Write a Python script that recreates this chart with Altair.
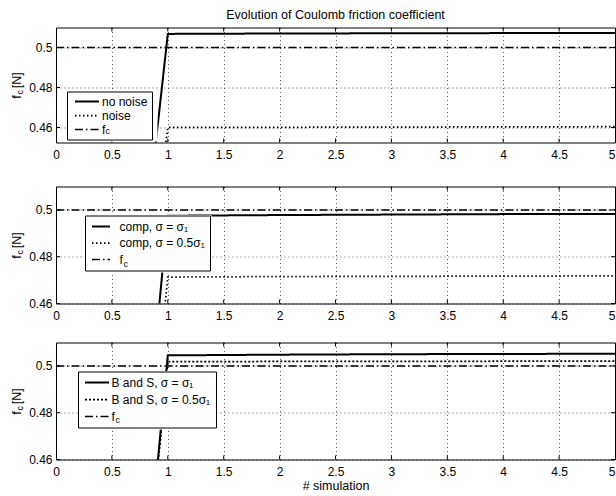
import altair as alt
import pandas as pd

# ---------------- data ----------------
sims = [0, 1, 2, 3, 4, 5]

p1_names = ["no noise", "noise", "f"]
p1_no_noise = [0.0, 0.5068, 0.5070, 0.5071, 0.5072, 0.5072]
p1_noise = [0.0, 0.4600, 0.4601, 0.4602, 0.4603, 0.4604]
p1_fc = [0.5, 0.5, 0.5, 0.5, 0.5, 0.5]

p2_names = ["comp, σ = σ₁", "comp, σ = 0.5σ₁", "f"]
p2_comp1 = [0.0, 0.4975, 0.4978, 0.4980, 0.4982, 0.4983]
p2_comp05 = [0.0, 0.4713, 0.4715, 0.4716, 0.4717, 0.4718]
p2_fc = [0.5, 0.5, 0.5, 0.5, 0.5, 0.5]

p3_names = ["B and S, σ = σ₁", "B and S, σ = 0.5σ₁", "f"]
p3_bs1 = [0.0, 0.5045, 0.5048, 0.5050, 0.5051, 0.5052]
p3_bs05 = [0.0, 0.5018, 0.5019, 0.5019, 0.5020, 0.5020]
p3_fc = [0.5, 0.5, 0.5, 0.5, 0.5, 0.5]

x_ticks = [0, 0.5, 1, 1.5, 2, 2.5, 3, 3.5, 4, 4.5, 5]
y_ticks = [0.46, 0.48, 0.5]

title_text = "Evolution of Coulomb friction coefficient"
x_title = "# simulation"
y_title = "f\u00a0\u00a0[N]"

W = 559
FONT = "Liberation Sans"


def panel(names, series, domain, height, leg, show_xtitle, dashes, title=None):
    rows = []
    for name, vals in zip(names, series):
        for s, v in zip(sims, vals):
            rows.append({"sim": s, "val": v, "series": name})
    df = pd.DataFrame(rows)

    xscale = alt.Scale(domain=[0, 5], nice=False)
    yscale = alt.Scale(domain=domain, nice=False, zero=False)

    xaxis = alt.Axis(values=x_ticks, format="~g", title=x_title if show_xtitle else None,
                     labelAlign={"condition": {"test": "datum.value == 5", "value": "right"}, "value": "center"},
                     titleFontSize=12.5, titleFontWeight="normal", titlePadding=2)
    yaxis = alt.Axis(values=y_ticks, format="~g", title=y_title, titleX=-36, titleY=height / 2,
                     titleAngle=270, titleBaseline="alphabetic", titleAlign="center",
                     titleFontSize=12.5, titleFontWeight="normal")

    half = leg["len"] / 8.0
    lines = alt.Chart(df).mark_line(clip=True, color="black").encode(
        x=alt.X("sim:Q", scale=xscale, axis=xaxis),
        y=alt.Y("val:Q", scale=yscale, axis=yaxis),
        strokeDash=alt.StrokeDash("series:N", scale=alt.Scale(domain=names, range=dashes),
                                  legend=alt.Legend(orient="none", legendX=leg["x"], legendY=leg["y"],
                                                    title=None, strokeColor="black",
                                                    padding=leg["pad"], labelFontSize=12, labelFont=FONT,
                                                    labelColor="black",
                                                    symbolSize=64, symbolStrokeColor="black",
                                                    symbolType=f"M-{half},0H{half}",
                                                    symbolOffset=leg["soff"], labelOffset=leg["loff"],
                                                    rowPadding=leg["rp"])),
        strokeWidth=alt.StrokeWidth("series:N", scale=alt.Scale(domain=names, range=[2, 1.5, 2]), legend=None),
        order=alt.Order("series:N"),
    )

    tdf = pd.DataFrame({"sim": x_ticks[1:-1]})
    ydf = pd.DataFrame({"val": y_ticks})
    tick_b = alt.Chart(tdf).mark_rule(color="black", strokeWidth=1).encode(
        x=alt.X("sim:Q", scale=xscale, axis=xaxis), y=alt.value(height), y2=alt.value(height - 4))
    tick_t = alt.Chart(tdf).mark_rule(color="black", strokeWidth=1).encode(
        x=alt.X("sim:Q", scale=xscale, axis=xaxis), y=alt.value(0), y2=alt.value(4))
    tick_l = alt.Chart(ydf).mark_rule(color="black", strokeWidth=1).encode(
        y=alt.Y("val:Q", scale=yscale, axis=yaxis), x=alt.value(0), x2=alt.value(4))
    tick_r = alt.Chart(ydf).mark_rule(color="black", strokeWidth=1).encode(
        y=alt.Y("val:Q", scale=yscale, axis=yaxis), x=alt.value(W), x2=alt.value(W - 4))

    one = pd.DataFrame({"a": [0]})
    # white background of the legend box (drawn under the legend so a subscript can sit on it)
    bx = leg["box"]
    leg_bg = alt.Chart(one).mark_rect(color="white", opacity=1).encode(
        x=alt.value(bx[0]), x2=alt.value(bx[2]), y=alt.value(bx[1]), y2=alt.value(bx[3]))
    sub_y = alt.Chart(one).mark_text(
        text="c", angle=270, align="left", baseline="alphabetic", fontSize=9, font=FONT, color="black"
    ).encode(x=alt.value(-33), y=alt.value(height / 2 + 9.5))
    sub_leg = alt.Chart(one).mark_text(
        text="c", align="left", baseline="alphabetic", fontSize=9, font=FONT, color="black"
    ).encode(x=alt.value(leg["cx"]), y=alt.value(leg["cy"]))

    layer = alt.layer(lines, tick_b, tick_t, tick_l, tick_r, leg_bg, sub_y, sub_leg).properties(
        width=W, height=height)
    if title is not None:
        layer = layer.properties(title=alt.TitleParams(title, fontSize=12.5, fontWeight="normal",
                                                       font=FONT, anchor="middle", offset=6))
    return layer


dd = [[1, 0], [1.5, 2.5], [8, 3, 1.5, 3]]
c1 = panel(p1_names, [p1_no_noise, p1_noise, p1_fc], [0.4525, 0.51], 115,
           dict(x=11, y=64, pad=4, len=24, soff=10, loff=9, rp=2, cx=49.5, cy=106,
                box=(10.5, 63.5, 101.5, 114)), False, dd, title_text)
c2 = panel(p2_names, [p2_comp1, p2_comp05, p2_fc], [0.46, 0.51], 117,
           dict(x=29, y=29, pad=5, len=18, soff=5, loff=12.5, rp=4.5, cx=67.5, cy=80,
                box=(28.5, 28.5, 155.5, 86)), False, dd)
c3 = panel(p3_names, [p3_bs1, p3_bs05, p3_fc], [0.46, 0.51], 117,
           dict(x=22, y=29, pad=5, len=24, soff=8, loff=8.5, rp=5, cx=59.5, cy=80,
                box=(21.5, 28.5, 161.5, 87)), True,
           [[1, 0], [2, 2], [8, 3, 1.5, 3]])

top = alt.vconcat(c1, c2, spacing=24).resolve_scale(
    y="independent", strokeDash="independent", strokeWidth="independent"
).resolve_legend(strokeDash="independent", strokeWidth="independent")

chart = alt.vconcat(top, c3, spacing=19).resolve_scale(
    y="independent", strokeDash="independent", strokeWidth="independent"
).resolve_legend(strokeDash="independent", strokeWidth="independent").properties(
    padding={"left": 9, "top": 7.5, "right": 0, "bottom": 0}
).configure(font=FONT).configure_view(
    stroke="black", strokeWidth=1
).configure_axis(
    labelFontSize=12, labelColor="black", labelFont=FONT, titleColor="black", titleFont=FONT,
    domain=False, ticks=False, grid=True, gridColor="black", gridDash=[1, 3], gridOpacity=0.8,
    gridWidth=0.8
).configure_axisX(labelPadding=7).configure_axisY(labelPadding=4)

chart.save("out.html", embed_options={"renderer": "svg", "actions": False})
